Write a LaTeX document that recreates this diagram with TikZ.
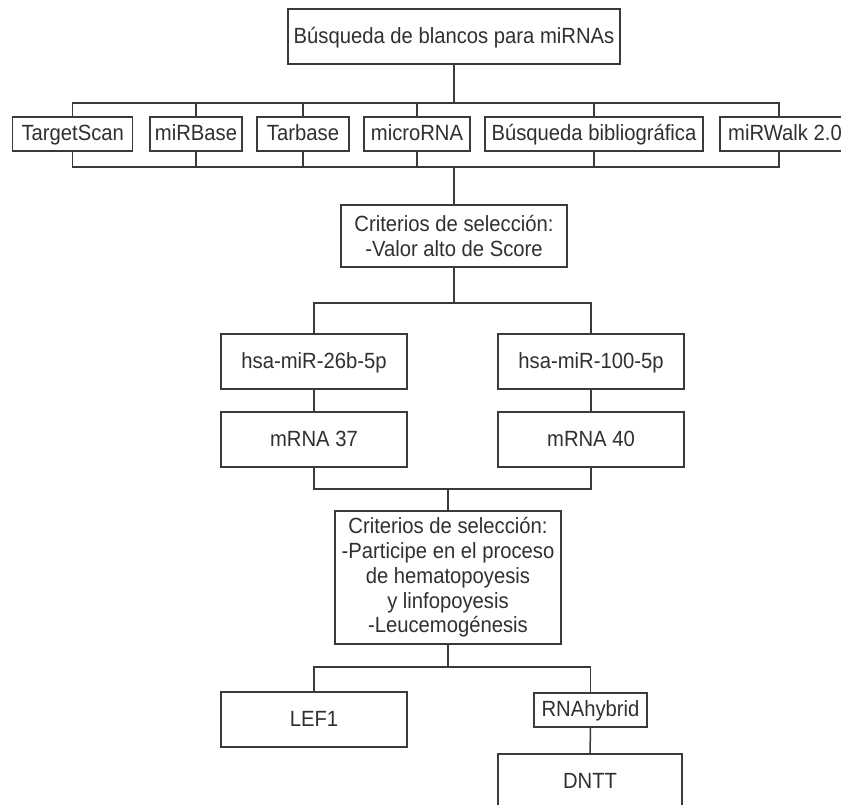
\documentclass[tikz,border=0pt]{standalone}
\usepackage{fontspec}
\setmainfont{Liberation Sans}[FakeStretch=0.92]
\definecolor{ln}{HTML}{3A3A3A}
\definecolor{tx}{HTML}{303030}
\begin{document}
\begin{tikzpicture}[x=1pt,y=-1pt,
  box/.style={draw=ln, line width=1.5pt, fill=white, text=tx, inner sep=0pt,
    align=center, font=\fontsize{22}{24.7}\selectfont},
  one/.style={text height=16.5pt, text depth=3pt},
  conn/.style={draw=ln, line width=1.5pt}]
\useasboundingbox (0,0) rectangle (841,805);
% nodes
\node[box, one, minimum width=332pt, minimum height=55pt] (top) at (454,36.5) {Búsqueda de blancos para miRNAs};
\node[box, one, minimum width=120pt, minimum height=34pt] (ts) at (72.7,134) {TargetScan};
\node[box, one, minimum width=92pt, minimum height=34pt] (mb) at (196,134) {miRBase};
\node[box, one, minimum width=92pt, minimum height=34pt] (tb) at (303,134) {Tarbase};
\node[box, one, minimum width=106pt, minimum height=34pt] (mr) at (417,134) {microRNA};
\node[box, one, minimum width=218pt, minimum height=34pt] (bb) at (594,134) {Búsqueda bibliográfica};
\node[box, one, minimum width=130pt, minimum height=34pt] (mw) at (785,134) {miRWalk 2.0};
\node[box, minimum width=226pt, minimum height=62pt] (c1) at (454,236) {Criterios de selección:\\-Valor alto de Score};
\node[box, one, minimum width=186pt, minimum height=55pt] (h26) at (314,361.5) {hsa-miR-26b-5p};
\node[box, one, minimum width=186pt, minimum height=55pt] (h100) at (591,361.5) {hsa-miR-100-5p};
\node[box, one, minimum width=186pt, minimum height=55pt] (m37) at (314,439.5) {mRNA 37};
\node[box, one, minimum width=186pt, minimum height=55pt] (m40) at (591,439.5) {mRNA 40};
\node[box, minimum width=226pt, minimum height=133pt] (c2) at (448,577.5) {Criterios de selección:\\-Participe en el proceso\\de hematopoyesis\\y linfopoyesis\\-Leucemogénesis};
\node[box, one, minimum width=186pt, minimum height=55pt] (lef) at (314,719.5) {LEF1};
\node[box, one, minimum width=113pt, minimum height=34pt] (rh) at (590.5,710) {RNAhybrid};
\node[box, one, minimum width=184pt, minimum height=55pt] (dn) at (590,781.5) {DNTT};
% bus coordinates
\coordinate (b1) at (454,103);
\coordinate (b2) at (454,167);
\coordinate (b3) at (454,303);
\coordinate (b4) at (447,489);
\coordinate (b5) at (447,667);
\coordinate (mwn) at ([xshift=-6pt]mw.north);
\coordinate (mws) at ([xshift=-6pt]mw.south);
% connectors
\draw[conn] (top.south) -- (top.south |- b1);
\draw[conn] (ts.north) |- (mwn |- b1) -- (mwn);
\foreach \n in {mb,tb,mr,bb} \draw[conn] (\n.north) -- (\n.north |- b1);
\draw[conn] (ts.south) |- (mws |- b2) -- (mws);
\foreach \n in {mb,tb,mr,bb} \draw[conn] (\n.south) -- (\n.south |- b2);
\draw[conn] (c1.north) -- (c1.north |- b2);
\draw[conn] (c1.south) -- (c1.south |- b3);
\draw[conn] (h26.north) |- (h100.north |- b3) -- (h100.north);
\draw[conn] (h26.south) -- (m37.north);
\draw[conn] (h100.south) -- (m40.north);
\draw[conn] (m37.south) |- (m40.south |- b4) -- (m40.south);
\draw[conn] (c2.north) -- (c2.north |- b4);
\draw[conn] (c2.south) -- (c2.south |- b5);
\draw[conn] (lef.north) |- (rh.north |- b5) -- (rh.north);
\draw[conn] (rh.south) -- (dn.north);
\end{tikzpicture}
\end{document}
